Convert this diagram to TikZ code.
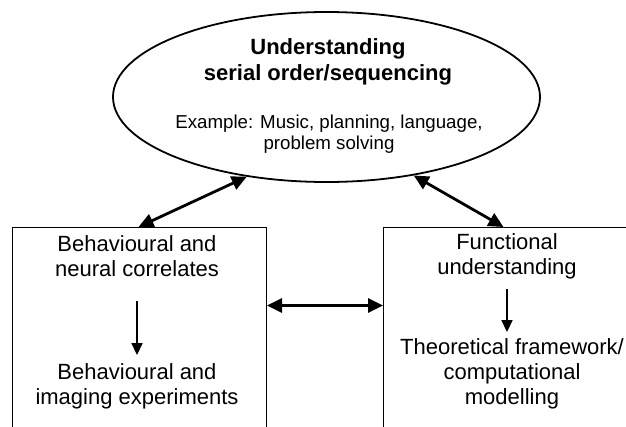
\documentclass[tikz,border=0pt]{standalone}
\usepackage{fontspec}
\setmainfont{Liberation Sans}
\usetikzlibrary{shapes.geometric,arrows.meta}
\begin{document}
\begin{tikzpicture}[x=1pt,y=-1pt,
  txt/.style={align=center,inner sep=0pt,font=\fontsize{22}{25}\selectfont},
  box/.style={draw,line width=1pt,inner sep=0pt},
  big/.style={{Triangle[length=15pt,width=14pt]}-{Triangle[length=15pt,width=14pt]},line width=2.8pt},
  small/.style={-{Triangle[length=12pt,width=11pt]},line width=1.7pt}]
\useasboundingbox (0,0) rectangle (626,426);
\node[ellipse,draw,line width=1.8pt,minimum width=427pt,minimum height=170pt,inner sep=0pt] (top) at (326.5,97) {};
\node[txt,font=\fontsize{22}{26.5}\selectfont\bfseries] (title) at (328,62) {Understanding\\serial order/sequencing};
\node[txt,font=\fontsize{18.7}{21.5}\selectfont] (ex) at (329,134) {Example: Music, planning, language,\\problem solving};
\node[box,minimum width=254pt,minimum height=213pt,anchor=north west] (lbox) at (12,227) {};
\node[box,minimum width=254pt,minimum height=213pt,anchor=north west] (rbox) at (383,227) {};
\node[txt] (l1) at (137,256) {Behavioural and\\neural correlates};
\node[txt] (l2) at (137,386) {Behavioural and\\imaging experiments};
\node[txt] (r1) at (507,256) {Functional\\understanding};
\node[txt] (r2) at (512,373.5) {Theoretical framework/\\computational\\modelling};
\draw[big] (top.-135) -- ([xshift=-1pt]lbox.north);
\draw[big] (top.-42) -- ([xshift=-7pt]rbox.north);
\draw[big] ([yshift=28.5pt]lbox.east) -- ([yshift=28.5pt]rbox.west);
\draw[small,shorten <=24pt,shorten >=8pt] (l1.south) -- (l2.north);
\draw[small,shorten <=10pt,shorten >=6pt] (r1.south) -- (r1.south |- r2.north);
\end{tikzpicture}
\end{document}
